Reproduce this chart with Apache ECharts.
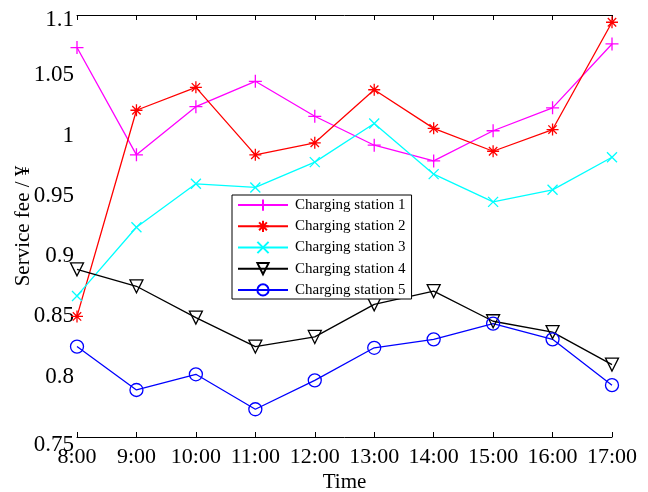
<!DOCTYPE html>
<html>
<head>
<meta charset="utf-8">
<script src="https://cdn.jsdelivr.net/npm/echarts@6/dist/echarts.min.js"></script>
<style>
    html, body { margin: 0; padding: 0; background: #fff; }
    #chart { width: 648px; height: 492px; }
</style>
</head>
<body>
<div id="chart"></div>
<script>
    // 数据
    const hours = ['8:00', '9:00', '10:00', '11:00', '12:00', '13:00', '14:00', '15:00', '16:00', '17:00'];
    const station1 = [1.073, 0.984, 1.024, 1.045, 1.016, 0.992, 0.979, 1.004, 1.023, 1.076];
    const station2 = [0.850, 1.021, 1.040, 0.984, 0.994, 1.038, 1.006, 0.987, 1.005, 1.094];
    const station3 = [0.867, 0.924, 0.960, 0.957, 0.978, 1.010, 0.968, 0.945, 0.955, 0.982];
    const station4 = [0.889, 0.875, 0.849, 0.825, 0.833, 0.860, 0.871, 0.846, 0.837, 0.810];
    const station5 = [0.825, 0.789, 0.802, 0.773, 0.797, 0.824, 0.831, 0.844, 0.831, 0.793];
    const names = ['Charging station 1', 'Charging station 2', 'Charging station 3', 'Charging station 4', 'Charging station 5'];

    const font = "'Liberation Serif', 'Times New Roman', serif";
    const chart = echarts.init(document.getElementById('chart'));

    const plus = 'path://M0,50L100,50M50,0L50,100';
    const cross = 'path://M0,0L100,100M0,100L100,0';
    const star = 'path://M0,50L100,50M50,0L50,100M15,15L85,85M15,85L85,15';

    function makeSeries(name, data, color, symbol, size, extra) {
        return Object.assign({
            name: name,
            type: 'line',
            data: data,
            symbol: symbol,
            symbolSize: size,
            lineStyle: { color: color, width: 1.3 },
            itemStyle: { color: 'none', borderColor: color, borderWidth: 1.3 },
            emphasis: { disabled: true },
            animation: false
        }, extra || {});
    }

    const axisCommon = {
        axisLine: { lineStyle: { color: '#000', width: 1 } },
        axisTick: { inside: true, length: 5, interval: 0, lineStyle: { color: '#000' } },
        splitLine: { show: false }
    };

    const option = {
        grid: { left: 77, right: 36, top: 15, bottom: 55, outerBoundsMode: 'none' },
        legend: {
            data: names,
            orient: 'vertical',
            left: 232,
            top: 195,
            itemWidth: 50,
            itemHeight: 14,
            itemGap: 5,
            padding: [2, 6, 1, 5],
            borderColor: '#000',
            borderWidth: 1,
            backgroundColor: '#fff',
            textStyle: { fontFamily: font, fontSize: 15, color: '#000', padding: [0, 0, 0, 2] }
        },
        xAxis: [
            Object.assign({
                type: 'category',
                data: hours,
                boundaryGap: false,
                name: 'Time',
                nameLocation: 'middle',
                nameGap: 35,
                nameMoveOverlap: false,
                nameTextStyle: { fontFamily: font, fontSize: 21, color: '#000' },
                axisLabel: { interval: 0, fontFamily: font, fontSize: 22, color: '#000', margin: 9 }
            }, axisCommon),
            Object.assign({
                type: 'category',
                data: hours,
                boundaryGap: false,
                position: 'top',
                axisLabel: { show: false }
            }, axisCommon)
        ],
        yAxis: [
            Object.assign({
                type: 'value',
                min: 0.75,
                max: 1.1,
                interval: 0.05,
                name: 'Service fee / ¥',
                nameLocation: 'middle',
                nameGap: 43,
                nameMoveOverlap: false,
                nameTextStyle: { fontFamily: font, fontSize: 21, color: '#000' },
                axisLabel: {
                    fontFamily: font, fontSize: 23, color: '#000', margin: 3,
                    formatter: v => {
                        const s = String(Math.round(v * 100) / 100);
                        if (v > 1.09) return '{top|' + s + '}';
                        if (v < 0.76) return '{bot|' + s + '}';
                        return s;
                    },
                    rich: {
                        top: { fontFamily: font, fontSize: 23, color: '#000', padding: [10, 0, 0, 0] },
                        bot: { fontFamily: font, fontSize: 23, color: '#000', padding: [16, 0, 0, 0] }
                    }
                }
            }, axisCommon),
            Object.assign({
                type: 'value',
                min: 0.75,
                max: 1.1,
                interval: 0.05,
                position: 'right',
                axisLabel: { show: false }
            }, axisCommon)
        ],
        series: [
            makeSeries(names[0], station1, '#ff00ff', plus, 13),
            makeSeries(names[1], station2, '#ff0000', star, 12),
            makeSeries(names[2], station3, '#00ffff', cross, 10),
            makeSeries(names[3], station4, '#000000', 'triangle', 13, { symbolRotate: 180 }),
            makeSeries(names[4], station5, '#0000ff', 'circle', 13)
        ]
    };

    chart.setOption(option);
</script>
</body>
</html>
